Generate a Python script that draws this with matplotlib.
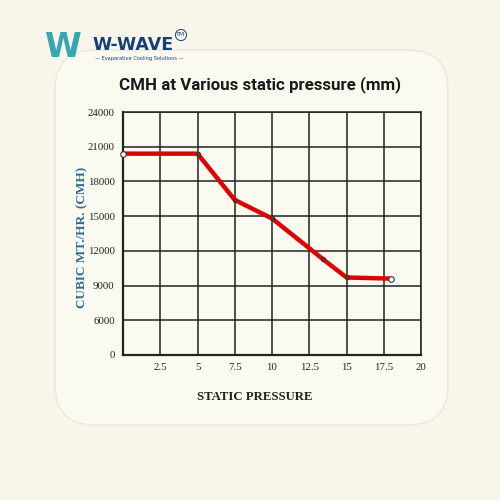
import matplotlib.pyplot as plt
from matplotlib.patches import FancyBboxPatch

# data
pressure = [0, 5, 7.5, 10, 13.4, 15, 18]
cmh = [20400, 20400, 16400, 14800, 11300, 9700, 9600]

x_ticks = [2.5, 5, 7.5, 10, 12.5, 15, 17.5, 20]
x_labels = ["2.5", "5", "7.5", "10", "12.5", "15", "17.5", "20"]
# the bottom gridline is labelled 0 even though the spacing is 3000
y_ticks = [3000, 6000, 9000, 12000, 15000, 18000, 21000, 24000]
y_labels = ["0", "6000", "9000", "12000", "15000", "18000", "21000", "24000"]

bg = "#f8f6ea"
serif = ["Liberation Serif", "DejaVu Serif"]

fig = plt.figure(figsize=(5, 5), dpi=100, facecolor=bg)

# rounded panel behind the chart
panel = FancyBboxPatch((0.11, 0.15), 0.786, 0.75, boxstyle="round,pad=0,rounding_size=0.08",
                       transform=fig.transFigure, facecolor="#fbfaf1", edgecolor="#e9e7da",
                       linewidth=1.0, zorder=-5)
fig.patches.append(panel)

ax = fig.add_axes([0.246, 0.29, 0.596, 0.486])
ax.set_zorder(2)
ax.set_facecolor("#fbfaf1")
ax.plot(pressure, cmh, color="#e00000", linewidth=3.2, solid_capstyle="round", zorder=3)
ax.plot(pressure[1:-1], cmh[1:-1], "o", ms=3, mfc="none", mec="#333333", mew=0.8, zorder=4)
ax.plot([pressure[0], pressure[-1]], [cmh[0], cmh[-1]], "o", ms=4, mfc="white",
        mec="#333333", mew=0.8, zorder=4, clip_on=False)

ax.set_xlim(0, 20)
ax.set_ylim(3000, 24000)
ax.set_xticks(x_ticks)
ax.set_xticklabels(x_labels)
ax.set_yticks(y_ticks)
ax.set_yticklabels(y_labels)
ax.grid(True, color="#222222", linewidth=1.1)
ax.tick_params(length=0, labelsize=7.8)
ax.tick_params(axis="x", pad=6)
ax.tick_params(axis="y", pad=6)
for lab in ax.get_xticklabels() + ax.get_yticklabels():
    lab.set_fontfamily(serif)
    lab.set_color("#222222")
for s in ax.spines.values():
    s.set_color("#222222")
    s.set_linewidth(1.1)
ax.spines["left"].set_linewidth(1.6)
ax.spines["bottom"].set_linewidth(1.6)

ax.set_xlabel("STATIC PRESSURE", fontfamily=serif, fontweight="bold", fontsize=9.2,
              color="#222222", va="center")
ax.xaxis.set_label_coords(0.443, -0.173)
ax.set_ylabel("CUBIC MT./HR. (CMH)", fontfamily=serif, fontweight="bold", fontsize=9.5,
              color="#2b6c9a")
ax.yaxis.set_label_coords(-0.115, 0.486)

fig.text(0.52, 0.83, "CMH at Various static pressure (mm)", ha="center", va="center",
         fontsize=12.2, fontfamily="Roboto", fontweight="bold", color="#1a1a1a")

# logo
fig.text(0.09, 0.905, "W", ha="left", va="center", fontsize=24, fontweight="bold",
         color="#3aa6b0", fontfamily="DejaVu Sans")
fig.text(0.185, 0.91, "W-WAVE", ha="left", va="center", fontsize=12.5, fontweight="bold",
         color="#173f7a", fontfamily="DejaVu Sans")
fig.text(0.362, 0.93, "TM", ha="center", va="center", fontsize=4.5, color="#173f7a",
         bbox=dict(boxstyle="circle,pad=0.15", fc="none", ec="#173f7a", lw=0.7))
fig.text(0.19, 0.883, "— Evaporative Cooling Solutions —", ha="left", va="center",
         fontsize=3.6, color="#173f7a", fontfamily="DejaVu Sans")

fig.savefig("out.png", dpi=100, facecolor=bg)
